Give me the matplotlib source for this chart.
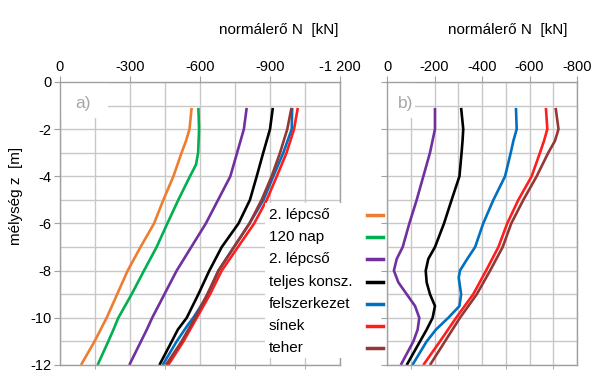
import matplotlib
matplotlib.use('Agg')
import matplotlib.pyplot as plt
from matplotlib.ticker import MultipleLocator, FixedLocator, FixedFormatter
from matplotlib.lines import Line2D
from matplotlib.patches import Rectangle

plt.rcParams['font.family'] = ['Liberation Sans', 'DejaVu Sans']
plt.rcParams['axes.unicode_minus'] = False

# --- data ---
labels = ['2. lépcső', '120 nap', '2. lépcső', 'teljes konsz.', 'felszerkezet', 'sínek', 'teher']
colors = ['#ED7D31', '#00B050', '#7030A0', '#000000', '#0070C0', '#FF1E1E', '#953735']

# panel a)
a_orange_z = [-1.1, -2, -2.5, -3, -4, -5, -6, -7, -8, -9, -10, -11, -12]
a_orange_n = [-564, -555, -540, -521, -486, -443, -403, -345, -290, -245, -200, -148, -90]
a_green_z = [-1.1, -2, -3, -3.5, -4, -5, -6, -7, -8, -9, -10, -10.5, -11, -12]
a_green_n = [-593, -596, -592, -583, -557, -507, -460, -414, -360, -307, -250, -229, -207, -161]
a_purple_z = [-1.1, -2, -4, -6, -8, -10, -10.5, -12]
a_purple_n = [-800, -788, -730, -625, -500, -395, -372, -297]
a_black_z = [-1.1, -2, -3, -4, -5, -6, -7, -8, -9, -10, -10.5, -11, -12]
a_black_n = [-912, -900, -871, -843, -814, -765, -693, -640, -593, -543, -505, -479, -426]
a_blue_z = [-1.1, -2, -3, -4, -5, -6, -8, -9, -10, -10.3, -11, -12]
a_blue_n = [-995, -993, -957, -914, -872, -812, -679, -636, -571, -548, -500, -440]
a_red_z = [-1.1, -2, -3, -4, -5, -6, -8, -9, -10, -11, -12]
a_red_n = [-1019, -1003, -971, -929, -886, -832, -693, -643, -586, -529, -464]
a_brown_z = [-1.1, -2, -3, -4, -5, -6, -8, -9, -10, -11, -12]
a_brown_n = [-992, -974, -943, -907, -864, -812, -679, -631, -579, -521, -454]

# panel b)
b_purple_z = [-1.1, -2, -3, -4, -5, -6, -7, -7.5, -8, -8.5, -9, -9.5, -10, -10.5, -11, -12]
b_purple_n = [-202, -202, -181, -153, -125, -94, -66, -41, -29, -48, -83, -118, -136, -129, -111, -58]
b_black_z = [-1.1, -2, -2.5, -3, -4, -5, -6, -7, -7.5, -8, -8.5, -9, -9.5, -10, -10.5, -11, -12]
b_black_n = [-312, -321, -318, -314, -305, -272, -240, -202, -174, -163, -167, -181, -202, -192, -167, -139, -83]
b_blue_z = [-1.1, -2, -2.5, -3, -4, -5, -6, -7, -7.5, -8, -8.3, -9, -9.5, -10, -10.5, -11, -12]
b_blue_n = [-543, -546, -532, -521, -497, -448, -405, -371, -338, -307, -302, -312, -305, -258, -206, -167, -107]
b_red_z = [-1.1, -2, -2.5, -3, -4, -5, -6, -7, -8, -9, -10, -11, -12]
b_red_n = [-669, -675, -661, -644, -609, -553, -506, -469, -417, -363, -291, -223, -153]
b_brown_z = [-1.1, -2, -2.5, -3, -4, -5, -6, -7, -8, -9, -10, -11, -12]
b_brown_n = [-710, -722, -707, -679, -630, -574, -523, -487, -434, -378, -307, -244, -181]

a_ticks = [0, -300, -600, -900, -1200]
a_ticklabels = ['0', '-300', '-600', '-900', '-1 200']
b_ticks = [0, -200, -400, -600, -800]
b_ticklabels = ['0', '-200', '-400', '-600', '-800']
z_ticks = [0, -2, -4, -6, -8, -10, -12]
z_ticklabels = ['0', '-2', '-4', '-6', '-8', '-10', '-12']

grid_c = '#c8c8c8'
spine_c = '#a0a0a0'
lw = 1.9
W, H = 600, 379

fig = plt.figure(figsize=(6, 3.79), dpi=100)
ax1 = fig.add_axes([0.1, 0.037, 0.4667, 0.7467])
ax2 = fig.add_axes([0.645, 0.037, 0.3167, 0.7467])


def style(ax, xmax, ticks, ticklabels, minor_step):
  ax.set_xlim(0, xmax)
  ax.set_ylim(-12, 0)
  ax.xaxis.set_major_locator(FixedLocator(ticks))
  ax.xaxis.set_major_formatter(FixedFormatter(ticklabels))
  ax.xaxis.set_minor_locator(MultipleLocator(minor_step))
  ax.yaxis.set_major_locator(FixedLocator(z_ticks))
  ax.yaxis.set_minor_locator(MultipleLocator(1))
  ax.xaxis.tick_top()
  ax.grid(True, which='both', color=grid_c, linewidth=1.0)
  ax.set_axisbelow(True)
  for s in ax.spines.values():
    s.set_color(spine_c)
    s.set_linewidth(1.0)
  ax.tick_params(axis='x', which='major', top=True, bottom=False, length=4, color=spine_c,
                 labelsize=10.5, pad=2)
  ax.tick_params(axis='x', which='minor', top=False, bottom=True, length=3, color=spine_c)
  ax.tick_params(axis='y', which='major', left=True, length=4, color=spine_c, labelsize=10.5, pad=2)
  ax.tick_params(axis='y', which='minor', left=False, length=0)


style(ax1, -1200, a_ticks, a_ticklabels, 150)
style(ax2, -800, b_ticks, b_ticklabels, 100)
ax1.yaxis.set_major_formatter(FixedFormatter(z_ticklabels))
ax2.tick_params(axis='y', labelleft=False)

a_series = [(a_orange_n, a_orange_z), (a_green_n, a_green_z), (a_purple_n, a_purple_z),
            (a_black_n, a_black_z), (a_blue_n, a_blue_z), (a_red_n, a_red_z), (a_brown_n, a_brown_z)]
for (n, z), c in zip(a_series, colors):
  ax1.plot(n, z, color=c, lw=lw, solid_capstyle='butt')

b_series = [(b_purple_n, b_purple_z), (b_black_n, b_black_z), (b_blue_n, b_blue_z),
            (b_red_n, b_red_z), (b_brown_n, b_brown_z)]
for (n, z), c in zip(b_series, colors[2:]):
  ax2.plot(n, z, color=c, lw=lw, solid_capstyle='butt')

# panel tags with a white patch in the top-left corner
for ax, tag, bw in [(ax1, 'a)', 0.171), (ax2, 'b)', 0.147)]:
  ax.add_patch(Rectangle((0, 1 - 0.127), bw, 0.127, transform=ax.transAxes,
                         facecolor='white', edgecolor='none', zorder=2.5))
  ax.text(0.055, 0.925, tag, transform=ax.transAxes, fontsize=12.5, color='#a6a6a6',
          va='center', ha='left', zorder=5)

fig.text(0.565, 0.921, 'normálerő N  [kN]', ha='right', va='center', fontsize=11)
fig.text(0.945, 0.921, 'normálerő N  [kN]', ha='right', va='center', fontsize=11)
fig.text(0.027, 0.483, 'mélység z  [m]', rotation=90, ha='center', va='center', fontsize=11)

# legend: text left, short line on the right
fig.patches.append(Rectangle((265 / W, 1 - 358 / H), 80 / W, 155 / H, transform=fig.transFigure,
                             facecolor='white', edgecolor='none', zorder=3, figure=fig))
for i, (lab, c) in enumerate(zip(labels, colors)):
  yy = 1 - (215 + i * 22.2) / H
  fig.text(269 / W, yy, lab, ha='left', va='center', fontsize=11, zorder=4)
  fig.lines.append(Line2D([367 / W, 383 / W], [yy, yy], color=c, lw=2.5,
                          transform=fig.transFigure, figure=fig, zorder=4))

fig.savefig('out.png', dpi=100)
